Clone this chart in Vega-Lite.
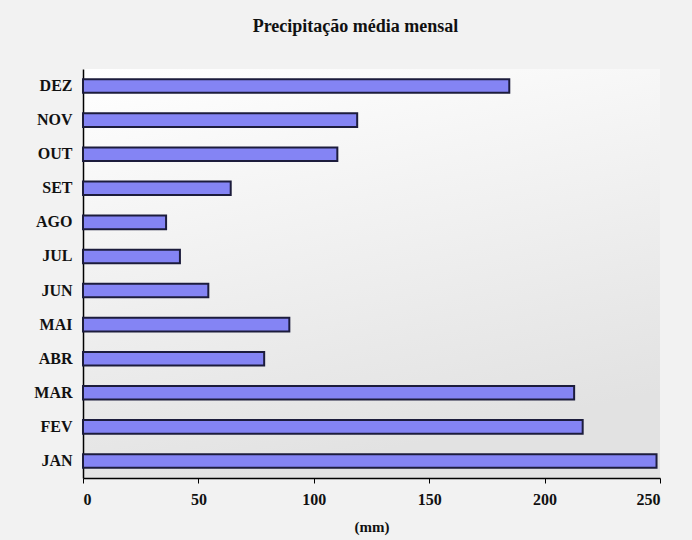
{
  "$schema": "https://vega.github.io/schema/vega-lite/v6.json",
  "autosize": {"type": "none"},
  "width": 577,
  "height": 409,
  "padding": {"left": 83, "top": 69, "right": 32, "bottom": 62},
  "background": "#f2f2f2",
  "title": {
    "text": "Precipitação média mensal",
    "font": "Liberation Serif",
    "fontSize": 18,
    "fontWeight": "bold",
    "color": "#111111",
    "anchor": "middle",
    "dx": -16,
    "offset": 33
  },
  "config": {
    "view": {"stroke": null, "fill": {"gradient": "linear", "x1": 0, "y1": 0, "x2": 0.3, "y2": 1, "stops": [{"offset": 0, "color": "#ffffff"}, {"offset": 1, "color": "#e2e2e2"}]}}
  },
  "data": {
    "values": [
      {"mes": "DEZ", "mm": 184.7},
      {"mes": "NOV", "mm": 118.8},
      {"mes": "OUT", "mm": 110.2},
      {"mes": "SET", "mm": 64},
      {"mes": "AGO", "mm": 36},
      {"mes": "JUL", "mm": 42},
      {"mes": "JUN", "mm": 54.3},
      {"mes": "MAI", "mm": 89.4},
      {"mes": "ABR", "mm": 78.5},
      {"mes": "MAR", "mm": 212.8},
      {"mes": "FEV", "mm": 216.5},
      {"mes": "JAN", "mm": 248.5}
    ]
  },
  "mark": {"type": "bar", "fill": "#8484f4", "stroke": "#1c1c3c", "strokeWidth": 2},
  "encoding": {
    "y": {
      "field": "mes", "type": "nominal", "sort": null,
      "scale": {"paddingInner": 0.6, "paddingOuter": 0.3},
      "axis": {"title": null, "ticks": false, "domainColor": "#000000", "domainWidth": 1.5, "labelFont": "Liberation Serif", "labelFontSize": 16, "labelFontWeight": "bold", "labelColor": "#111111", "labelPadding": 11}
    },
    "x": {
      "field": "mm", "type": "quantitative",
      "scale": {"domain": [0, 250], "nice": false},
      "axis": {"title": "(mm)", "values": [0, 50, 100, 150, 200, 250], "grid": false, "domainColor": "#000000", "domainWidth": 1.5, "tickColor": "#000000", "tickSize": 5, "labelFont": "Liberation Serif", "labelFontSize": 16, "labelFontWeight": "bold", "labelColor": "#111111", "labelPadding": 8, "titleFont": "Liberation Serif", "titleFontSize": 15, "titleFontWeight": "bold", "titleColor": "#111111", "titlePadding": 12}
    }
  }
}
